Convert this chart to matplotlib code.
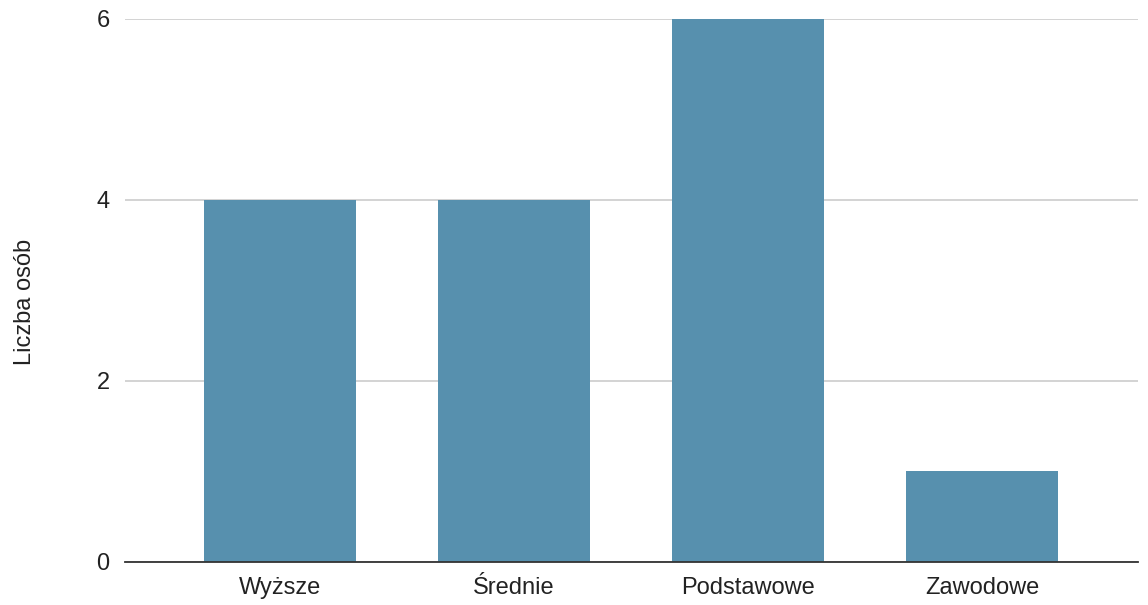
import matplotlib
matplotlib.use('Agg')
import matplotlib.pyplot as plt

plt.rcParams['font.family'] = ['Liberation Sans', 'DejaVu Sans']

kategorie = ['Wyższe', 'Średnie', 'Podstawowe', 'Zawodowe']
liczba = [4, 4, 6, 1]

fig = plt.figure(figsize=(11.48, 6.05), dpi=100)
ax = fig.add_axes([0.1089, 0.0711, 0.8824, 0.8975])

x = range(len(kategorie))
ax.bar(x, liczba, width=0.65, color='#5790ae', zorder=3)

ax.set_xlim(-0.662, 3.665)
ax.set_ylim(0, 6)
ax.set_yticks([0, 2, 4, 6])
ax.set_xticks(list(x))
ax.set_xticklabels(kategorie)
ax.tick_params(axis='both', length=0, labelsize=17, colors='#222222')
ax.tick_params(axis='y', pad=11)
ax.tick_params(axis='x', pad=11)

ax.grid(axis='y', color='#cccccc', linewidth=1.2, zorder=0)
for s in ['top', 'right', 'left']:
    ax.spines[s].set_visible(False)
ax.spines['bottom'].set_color('#333333')
ax.spines['bottom'].set_linewidth(1.3)
ax.spines['bottom'].set_zorder(4)

ax.set_ylabel('Liczba osób', fontsize=17, color='#222222')
ax.yaxis.set_label_coords(-0.088, 0.479)

fig.savefig('out.png', dpi=100)
